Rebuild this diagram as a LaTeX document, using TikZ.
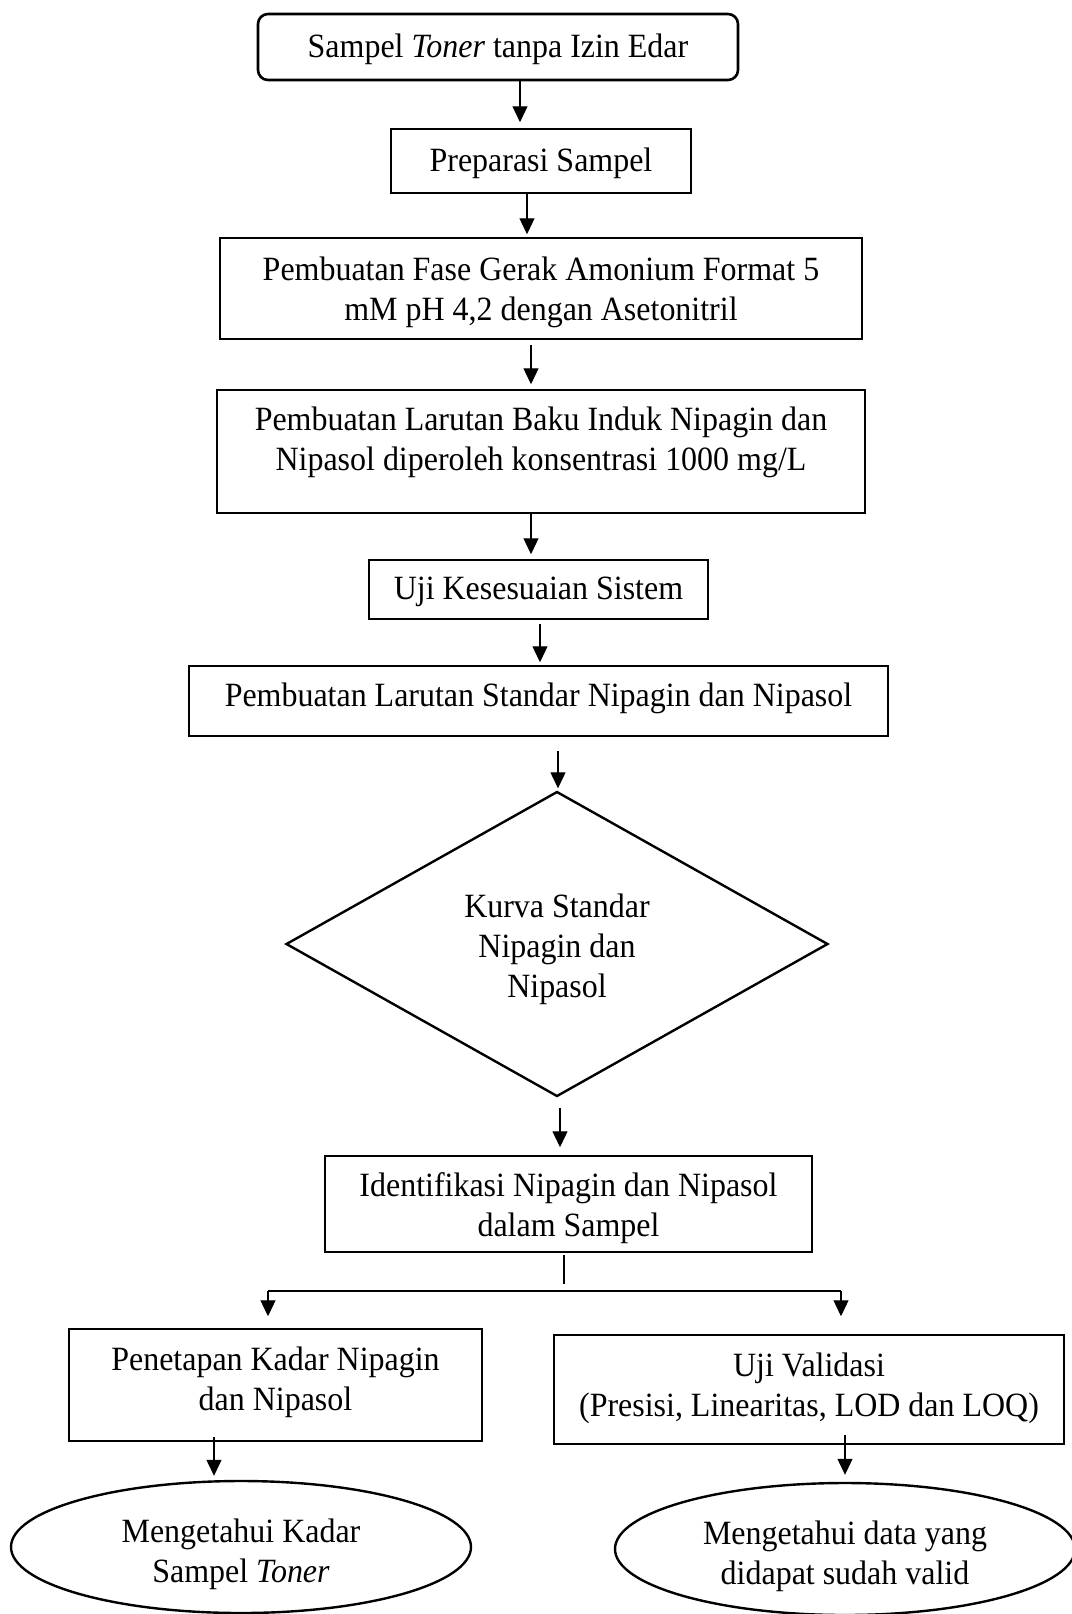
\documentclass[tikz,border=0pt]{standalone}
\usepackage{fontspec}
\setmainfont[FakeStretch=0.94]{Liberation Serif}
\usetikzlibrary{shapes.geometric,arrows.meta,calc}
\begin{document}
\begin{tikzpicture}[x=0.5pt,y=-0.5pt,
  every node/.style={font=\fontsize{17}{20}\selectfont, align=center, inner sep=0pt},
  box/.style={draw, line width=0.75pt},
  rbox/.style={draw, line width=1.3pt, rounded corners=5pt},
  dia/.style={draw, shape=diamond, aspect=1.78, line width=1.2pt},
  ell/.style={draw, shape=ellipse, line width=1.2pt},
  arr/.style={-{Triangle[length=8pt,width=7.5pt]}, line width=0.6pt},
  conn/.style={line width=0.6pt}]
\useasboundingbox (0,0) rectangle (1072,1614);

% nodes
\node[rbox, minimum width=240pt, minimum height=33pt,
  label={[yshift=-1pt]center:{Sampel \textit{Toner} tanpa Izin Edar}}] (start) at (498,47) {};
\node[box, minimum width=150pt, minimum height=32pt,
  label={[yshift=-1pt]center:{Preparasi Sampel}}] (prep) at (541,161) {};
\node[box, minimum width=321pt, minimum height=50.5pt,
  label={[yshift=-2pt]center:{Pembuatan Fase Gerak Amonium Format 5\\mM pH 4,2 dengan Asetonitril}}] (fase) at (541,288.5) {};
\node[box, minimum width=324pt, minimum height=61.5pt,
  label={[yshift=4.75pt]center:{Pembuatan Larutan Baku Induk Nipagin dan\\Nipasol diperoleh konsentrasi 1000 mg/L}}] (baku) at (541,451.5) {};
\node[box, minimum width=169.5pt, minimum height=29.5pt,
  label={[yshift=-1pt]center:{Uji Kesesuaian Sistem}}] (uji) at (538.5,589.5) {};
\node[box, minimum width=349.5pt, minimum height=35pt,
  label={[yshift=1.5pt]center:{Pembuatan Larutan Standar Nipagin dan Nipasol}}] (std) at (538.5,701) {};
\node[dia, minimum width=271pt, minimum height=152.5pt,
  label={[yshift=-2.5pt]center:{Kurva Standar\\Nipagin dan\\Nipasol}}] (kurva) at (557,944) {};
\node[box, minimum width=243.5pt, minimum height=48pt,
  label={[yshift=-2pt]center:{Identifikasi Nipagin dan Nipasol\\dalam Sampel}}] (ident) at (568.5,1204) {};
\node[box, minimum width=206.5pt, minimum height=56pt,
  label={[yshift=1.5pt]center:{Penetapan Kadar Nipagin\\dan Nipasol}}] (pen) at (275.5,1385) {};
\node[box, minimum width=255pt, minimum height=54.5pt,
  label={[yshift=0.5pt]center:{Uji Validasi\\(Presisi, Linearitas, LOD dan LOQ)}}] (val) at (809,1389.5) {};
\node[ell, minimum width=230pt, minimum height=66pt,
  label={[yshift=-3.5pt]center:{Mengetahui Kadar\\Sampel \textit{Toner}}}] (ell1) at (241,1547) {};
\node[ell, minimum width=230pt, minimum height=66pt,
  label={[yshift=-3.5pt]center:{Mengetahui data yang\\didapat sudah valid}}] (ell2) at (845,1549) {};

% x positions of connectors
\coordinate (c1) at (520,0);
\coordinate (c2) at (527,0);
\coordinate (c3) at (531,0);
\coordinate (c5) at (540,0);
\coordinate (c6) at (558,0);
\coordinate (c7) at (560,0);
\coordinate (c8) at (564,0);
\coordinate (c9) at (214,0);
\coordinate (c10) at (845,0);
\coordinate (sp) at (564,1284);
\coordinate (hl) at (268,1291);
\coordinate (hr) at (841,1291);

% connectors
\draw[arr, shorten >=3pt] (start.south -| c1) -- (prep.north -| c1);
\draw[arr, shorten >=1.5pt] (prep.south -| c2) -- (fase.north -| c2);
\draw[arr, shorten <=2.5pt, shorten >=2.5pt] (fase.south -| c3) -- (baku.north -| c3);
\draw[arr, shorten >=2.5pt] (baku.south -| c3) -- (uji.north -| c3);
\draw[arr, shorten <=2pt, shorten >=1.5pt] (uji.south -| c5) -- (std.north -| c5);
\draw[arr, shorten <=7pt, shorten >=1pt] (std.south -| c6) -- (kurva.north -| c6);
\draw[arr, shorten <=5pt, shorten >=4pt] (kurva.south -| c7) -- (ident.north -| c7);
\draw[conn, shorten <=1pt] (ident.south -| c8) -- (sp);
\draw[conn] (hl) -- (hr);
\draw[arr, shorten >=6pt] (hl) -- (pen.north -| hl);
\draw[arr, shorten >=9pt] (hr) -- (val.north -| hr);
\draw[arr, shorten <=-2.5pt, shorten >=2pt] (pen.south -| c9) -- (ell1.north -| c9);
\draw[arr, shorten <=-5pt, shorten >=3.5pt] (val.south -| c10) -- (ell2.north -| c10);
\end{tikzpicture}
\end{document}
